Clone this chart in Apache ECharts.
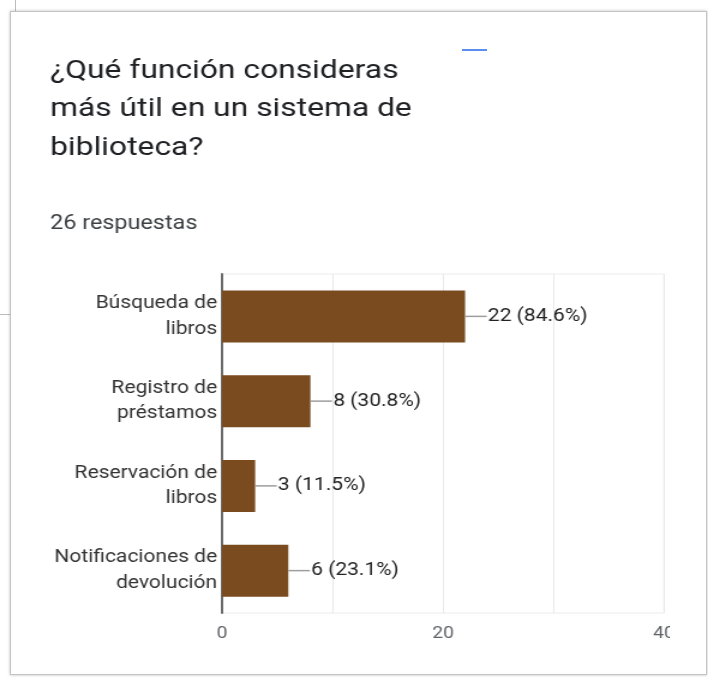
<!DOCTYPE html>
<html lang="es">
<head>
<meta charset="utf-8">
<title>¿Qué función consideras más útil en un sistema de biblioteca?</title>
<script src="https://cdn.jsdelivr.net/npm/echarts@6/dist/echarts.min.js"></script>
<style>
  html, body { margin: 0; padding: 0; background: #ffffff; }
  body { width: 708px; height: 677px; position: relative; overflow: hidden; font-family: Roboto, sans-serif; }
  .card {
    position: absolute; left: 10px; top: 11px; width: 695px; height: 662px;
    border: 1px solid #c4c4c4; box-shadow: 0 0 3px rgba(0,0,0,0.25); background: #fff;
  }
  .behind-v { position: absolute; left: 15px; top: 0; width: 1px; height: 11px; background: #bdbdbd; }
  .behind-h { position: absolute; left: 0; top: 314px; width: 10px; height: 1px; background: #bdbdbd; }
  .accent { position: absolute; left: 462px; top: 49px; width: 25px; height: 2px; background: #5a8ff0; }
  /* chart is laid out narrow and widened to the card's proportions */
  #chart {
    position: absolute; left: 0; top: 0; width: 558px; height: 677px;
    transform: scaleX(1.2); transform-origin: 0 0;
  }
</style>
</head>
<body>
<div class="behind-v"></div>
<div class="behind-h"></div>
<div class="card"></div>
<div class="accent"></div>
<div id="chart"></div>
<script>
const questionText = '¿Qué función consideras\nmás útil en un sistema de\nbiblioteca?';
const totalResponses = 26;
const categories = [
  'Búsqueda de libros',
  'Registro de préstamos',
  'Reservación de libros',
  'Notificaciones de devolución'
];
const counts = [22, 8, 3, 6];
const xTickLabels = [0, 20, 40];

const chart = echarts.init(document.getElementById('chart'), null, { renderer: 'canvas' });

const option = {
  animation: false,
  title: [
    {
      text: questionText,
      left: 41.7,
      top: 52,
      padding: 0,
      textStyle: {
        fontFamily: 'Roboto',
        fontSize: 26.5,
        fontWeight: 'normal',
        color: '#202124',
        lineHeight: 38.5
      }
    },
    {
      text: totalResponses + ' respuestas',
      left: 41.7,
      top: 214,
      padding: 0,
      textStyle: {
        fontFamily: 'Roboto',
        fontSize: 19.5,
        fontWeight: 'normal',
        color: '#3c4043',
        lineHeight: 20
      }
    }
  ],
  grid: {
    left: 185,
    right: 4.7,
    top: 274,
    bottom: 64,
    show: true,
    borderColor: '#ececec',
    borderWidth: 1,
    outerBoundsMode: 'none'
  },
  xAxis: {
    type: 'value',
    min: 0,
    max: 40,
    interval: 10,
    axisLine: { show: false },
    axisTick: { show: false },
    splitLine: { show: true, lineStyle: { color: '#e8e8e8', width: 1 } },
    axisLabel: {
      fontFamily: 'Roboto',
      fontSize: 16,
      color: '#5f6368',
      margin: 12.5,
      showMaxLabel: true,
      formatter: v => (xTickLabels.indexOf(v) >= 0 ? String(v) : '')
    }
  },
  yAxis: {
    type: 'category',
    data: categories,
    inverse: true,
    axisLine: { show: true, lineStyle: { color: '#6b6b6b', width: 2 } },
    axisTick: { show: false },
    splitLine: { show: false },
    axisLabel: {
      fontFamily: 'Roboto',
      fontSize: 17.5,
      lineHeight: 25.5,
      color: '#333333',
      margin: 4,
      padding: [6, 0, 0, 0],
      align: 'right',
      formatter: name => name.replace(' de ', ' de\n')
    }
  },
  series: [
    {
      type: 'bar',
      data: counts,
      barWidth: 52,
      itemStyle: { color: '#7a4b1f' },
      label: {
        show: true,
        position: 'right',
        distance: 0,
        formatter: p =>
          '{lead|}{txt|' + p.value + ' (' + (p.value / totalResponses * 100).toFixed(1) + '%)}',
        rich: {
          lead: {
            width: 18,
            height: 1.5,
            backgroundColor: '#9e9e9e',
            verticalAlign: 'middle'
          },
          txt: {
            fontFamily: 'Roboto',
            fontSize: 17.5,
            color: '#222222',
            lineHeight: 20,
            verticalAlign: 'middle',
            padding: [0, 0, 0, 1]
          }
        }
      }
    }
  ]
};

chart.setOption(option);
</script>
</body>
</html>
